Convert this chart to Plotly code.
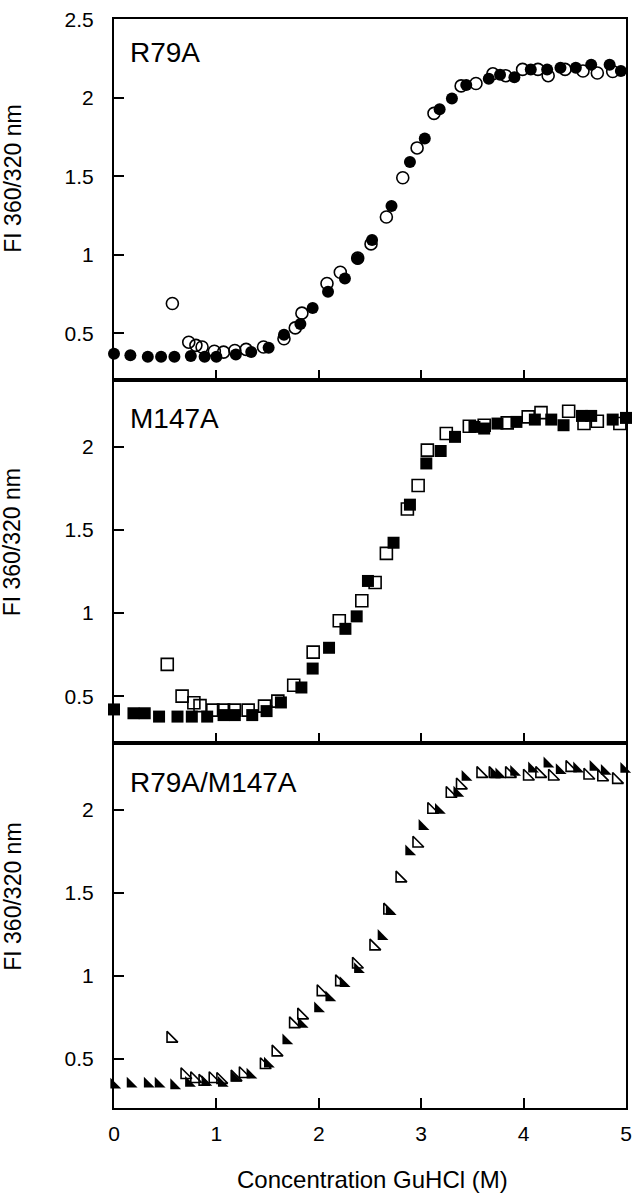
import plotly.graph_objects as go

# ---------------- data ----------------
r79a_filled_x = [0.0, 0.16, 0.33, 0.46, 0.59, 0.75, 0.885, 1.0, 1.19, 1.34, 1.51, 1.66, 1.82, 1.94, 2.09, 2.255, 2.38, 2.52,
                 2.71, 2.89, 3.035, 3.18, 3.30, 3.44, 3.66, 3.77, 3.91, 4.07, 4.23, 4.36, 4.51, 4.66, 4.84, 4.95]
r79a_filled_y = [0.37, 0.36, 0.35, 0.35, 0.35, 0.355, 0.35, 0.35, 0.364, 0.38, 0.408, 0.49, 0.559, 0.66, 0.764, 0.848, 0.974, 1.094,
                 1.31, 1.59, 1.74, 1.926, 1.995, 2.08, 2.12, 2.146, 2.13, 2.18, 2.18, 2.19, 2.19, 2.21, 2.21, 2.17]
r79a_open_x = [0.57, 0.73, 0.80, 0.86, 0.98, 1.07, 1.18, 1.29, 1.46, 1.66, 1.77, 1.835, 2.08, 2.21, 2.38, 2.51,
               2.66, 2.82, 2.96, 3.125, 3.39, 3.535, 3.70, 3.825, 3.99, 4.14, 4.24, 4.405, 4.58, 4.72, 4.87, 5.02]
r79a_open_y = [0.689, 0.443, 0.423, 0.412, 0.385, 0.38, 0.39, 0.397, 0.412, 0.465, 0.534, 0.628, 0.817, 0.888, 0.978, 1.069,
               1.24, 1.49, 1.68, 1.90, 2.075, 2.09, 2.152, 2.14, 2.18, 2.18, 2.14, 2.18, 2.17, 2.157, 2.167, 2.19]

m147a_filled_x = [0.0, 0.19, 0.30, 0.44, 0.62, 0.76, 0.91, 1.07, 1.18, 1.35, 1.49, 1.63, 1.83, 1.94, 2.10, 2.26, 2.37, 2.48,
                  2.73, 2.89, 3.05, 3.19, 3.33, 3.52, 3.615, 3.745, 3.93, 4.11, 4.27, 4.39, 4.57, 4.66, 4.87, 5.0]
m147a_filled_y = [0.42, 0.397, 0.397, 0.377, 0.377, 0.377, 0.377, 0.386, 0.386, 0.386, 0.41, 0.462, 0.552, 0.666, 0.791, 0.905, 0.98, 1.193,
                  1.423, 1.652, 1.90, 1.975, 2.06, 2.12, 2.11, 2.14, 2.15, 2.164, 2.164, 2.13, 2.186, 2.186, 2.164, 2.174]
m147a_open_x = [0.52, 0.665, 0.78, 0.84, 0.965, 1.07, 1.175, 1.31, 1.47, 1.60, 1.755, 1.945, 2.20, 2.42, 2.55,
                2.66, 2.865, 2.97, 3.06, 3.245, 3.47, 3.615, 3.84, 4.045, 4.17, 4.44, 4.59, 4.72, 4.94]
m147a_open_y = [0.691, 0.5, 0.46, 0.443, 0.416, 0.416, 0.416, 0.416, 0.44, 0.47, 0.566, 0.765, 0.954, 1.074, 1.184,
                1.359, 1.626, 1.767, 1.98, 2.08, 2.124, 2.13, 2.144, 2.18, 2.206, 2.214, 2.14, 2.154, 2.14]

dbl_filled_x = [0.0, 0.16, 0.327, 0.433, 0.585, 0.73, 0.89, 1.05, 1.18, 1.33, 1.50, 1.68, 1.83, 1.99, 2.10, 2.24, 2.38,
                2.61, 2.69, 2.88, 3.01, 3.17, 3.35, 3.43, 3.71, 3.76, 3.905, 4.08, 4.23, 4.35, 4.52, 4.68, 4.79, 4.98]
dbl_filled_y = [0.344, 0.35, 0.35, 0.35, 0.34, 0.354, 0.36, 0.354, 0.386, 0.404, 0.47, 0.61, 0.71, 0.803, 0.869, 0.955, 1.039,
                1.238, 1.388, 1.747, 1.90, 1.997, 2.10, 2.196, 2.21, 2.21, 2.226, 2.246, 2.276, 2.236, 2.246, 2.256, 2.232, 2.243]
dbl_open_x = [0.553, 0.69, 0.785, 0.866, 0.965, 1.04, 1.18, 1.26, 1.465, 1.58, 1.75, 1.83, 2.02, 2.20, 2.365, 2.535,
              2.67, 2.79, 2.955, 3.10, 3.28, 3.38, 3.58, 3.70, 3.86, 4.035, 4.155, 4.28, 4.45, 4.625, 4.76, 4.905]
dbl_open_y = [0.623, 0.404, 0.38, 0.364, 0.38, 0.375, 0.39, 0.41, 0.464, 0.54, 0.71, 0.763, 0.903, 0.963, 1.069, 1.178,
              1.394, 1.587, 1.797, 2.0, 2.096, 2.147, 2.216, 2.216, 2.216, 2.20, 2.216, 2.20, 2.252, 2.206, 2.196, 2.18]

panel_labels = ["R79A", "M147A", "R79A/M147A"]
y_title = "FI 360/320 nm"
x_title = "Concentration GuHCl (M)"
x_ticks = [0, 1, 2, 3, 4, 5]
y_ticks_top = [0.5, 1, 1.5, 2, 2.5]
y_ticks = [0.5, 1, 1.5, 2]

# ---------------- figure ----------------
FONT = "Arial, Liberation Sans, sans-serif"
fig = go.Figure()

panels = [
    (r79a_open_x, r79a_open_y, r79a_filled_x, r79a_filled_y, "circle", "x", "y"),
    (m147a_open_x, m147a_open_y, m147a_filled_x, m147a_filled_y, "square", "x2", "y2"),
    (dbl_open_x, dbl_open_y, dbl_filled_x, dbl_filled_y, "triangle-sw", "x3", "y3"),
]
for ox, oy, fx, fy, sym, xa, ya in panels:
    fig.add_trace(go.Scatter(x=ox, y=oy, mode="markers", xaxis=xa, yaxis=ya, cliponaxis=False,
                             marker=dict(symbol=sym + "-open", size=12, color="black",
                                         line=dict(color="black", width=1.6)),
                             showlegend=False, hoverinfo="skip"))
    fig.add_trace(go.Scatter(x=fx, y=fy, mode="markers", xaxis=xa, yaxis=ya, cliponaxis=False,
                             marker=dict(symbol=sym, size=12, color="black",
                                         line=dict(width=0)),
                             showlegend=False, hoverinfo="skip"))

W, H = 640, 1200
ml, mr, mt, mb = 114, 8, 11, 92
ph = H - mt - mb
def py(p):
    return (H - mb - p) / ph
def px(p):
    return (p - ml) / (W - ml - mr)

doms = [[py(375), 1.0], [py(740.5), py(375)], [0.0, py(740.5)]]
ranges = [[0.2, 2.501], [0.217, 2.4], [0.205, 2.4]]

axis_common = dict(showline=True, linecolor="black", linewidth=2, mirror=True,
                   ticks="inside", ticklen=10, tickwidth=1.5, tickcolor="black",
                   showgrid=False, zeroline=False, ticklabeloverflow="allow",
                   tickfont=dict(family=FONT, size=21, color="black"))

layout = dict(width=W, height=H, margin=dict(l=ml, r=mr, t=mt, b=mb),
              paper_bgcolor="white", plot_bgcolor="white", showlegend=False)
for i in range(3):
    sfx = "" if i == 0 else str(i + 1)
    layout["xaxis" + sfx] = dict(axis_common, domain=[0, 1], range=[0, 5], anchor="y" + sfx,
                                 tickvals=x_ticks, showticklabels=(i == 2), ticklabelstandoff=6)
    layout["yaxis" + sfx] = dict(axis_common, domain=doms[i], range=ranges[i], anchor="x" + sfx,
                                 tickvals=(y_ticks_top if i == 0 else y_ticks), ticklabelstandoff=14)
fig.update_layout(**layout)

label_y = [44.5, 413.3, 780.4]
title_y = [171.7, 538, 895]
for i in range(3):
    fig.add_annotation(text=panel_labels[i], xref="paper", yref="paper", x=px(128), y=py(label_y[i]),
                       xanchor="left", yanchor="middle", showarrow=False,
                       font=dict(family=FONT, size=28, color="black"))
    fig.add_annotation(text=y_title, xref="paper", yref="paper", x=px(11), y=py(title_y[i]),
                       xanchor="center", yanchor="middle", textangle=-90, showarrow=False,
                       font=dict(family=FONT, size=23, color="black"))
fig.add_annotation(text=x_title, xref="paper", yref="paper", x=px(376), y=py(1180),
                   xanchor="center", yanchor="middle", showarrow=False,
                   font=dict(family=FONT, size=24, color="black"))

fig.write_html("out.html", config={"displayModeBar": False},
               post_script="document.body.style.margin='0';document.body.style.overflow='hidden';")
